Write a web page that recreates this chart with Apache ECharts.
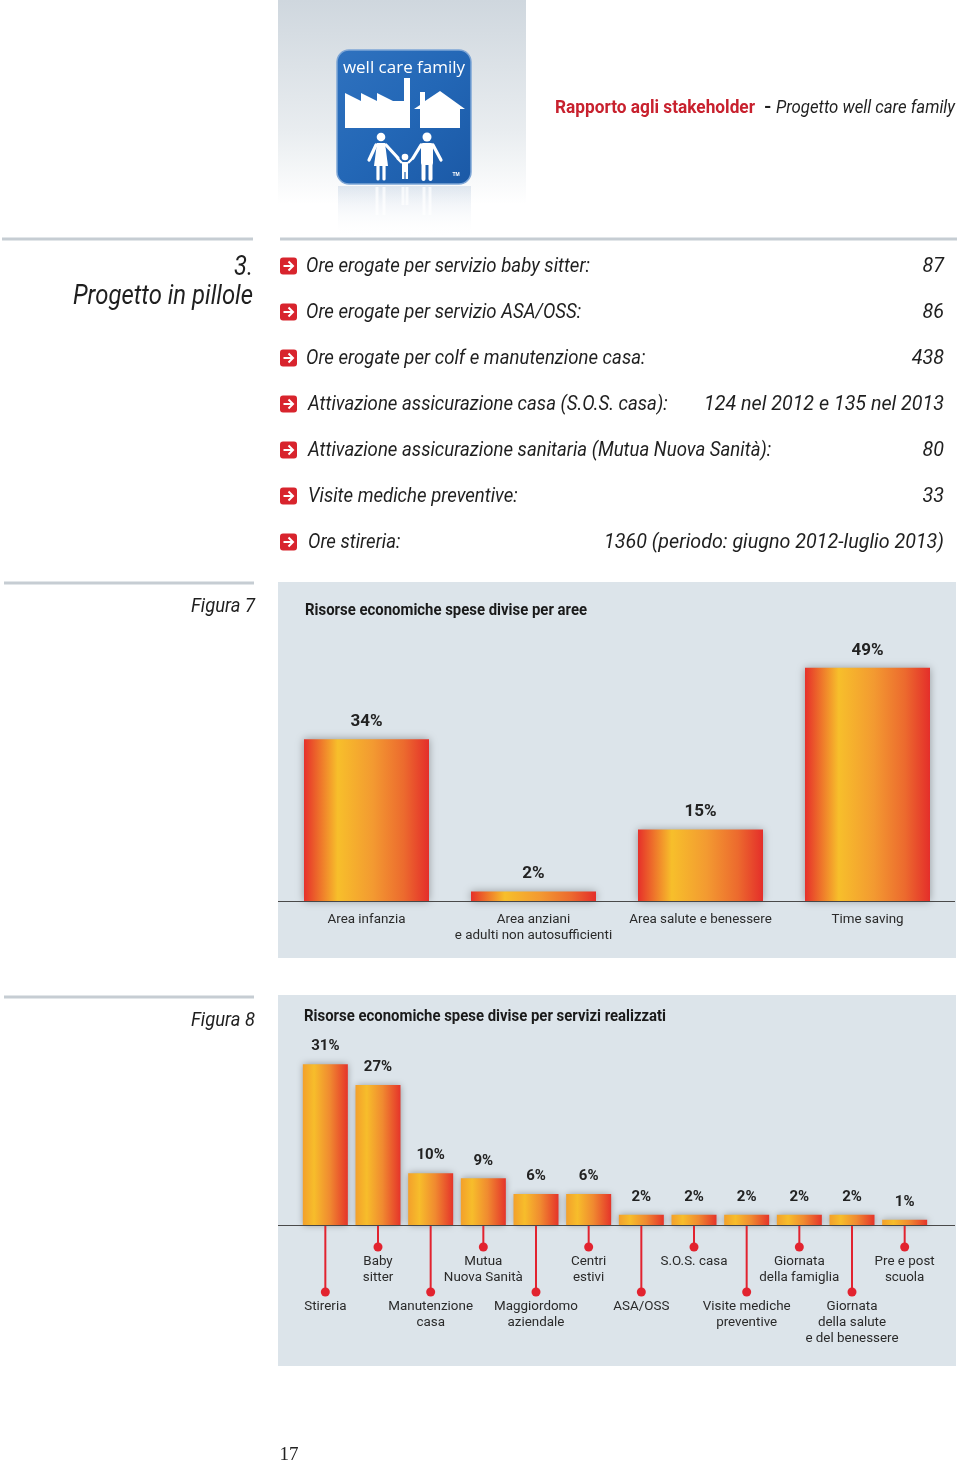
<!DOCTYPE html>
<html><head><meta charset="utf-8">
<script src="https://cdn.jsdelivr.net/npm/echarts@6/dist/echarts.min.js"></script>
<style>html,body{margin:0;padding:0;background:#fff}#c{width:960px;height:1463px}</style>
</head><body><div id="c"></div>
<script>
const FONT = 'Roboto, "Liberation Sans", sans-serif';

// ---- data ----
const listLabels = [
  'Ore erogate per servizio baby sitter:',
  'Ore erogate per servizio ASA/OSS:',
  'Ore erogate per colf e manutenzione casa:',
  'Attivazione assicurazione casa (S.O.S. casa):',
  'Attivazione assicurazione sanitaria (Mutua Nuova Sanità):',
  'Visite mediche preventive:',
  'Ore stireria:'
];
const listValues = ['87', '86', '438', '124 nel 2012 e 135 nel 2013', '80', '33', '1360 (periodo: giugno 2012-luglio 2013)'];

const fig7Categories = ['Area infanzia', 'Area anziani\ne adulti non autosufficienti', 'Area salute e benessere', 'Time saving'];
const fig7Values = [34, 2, 15, 49];

const fig8Categories = ['Stireria', 'Baby\nsitter', 'Manutenzione\ncasa', 'Mutua\nNuova Sanità', 'Maggiordomo\naziendale', 'Centri\nestivi', 'ASA/OSS', 'S.O.S. casa', 'Visite mediche\npreventive', 'Giornata\ndella famiglia', 'Giornata\ndella salute\ne del benessere', 'Pre e post\nscuola'];
const fig8Values = [31, 27, 10, 9, 6, 6, 2, 2, 2, 2, 2, 1];

// ---- rendering ----
const chart = echarts.init(document.getElementById('c'), null, {renderer: 'canvas'});
const G = echarts.graphic;
const TXT = '#1f1f1f';
const RED = '#d8242d';

const mctx = document.createElement('canvas').getContext('2d');
function measure(text, font) { mctx.font = font; return mctx.measureText(text).width; }
// horizontal condensing factors so the text matches the condensed typeface of the original
const F_LIST = 'italic 21px ' + FONT;
const S_LIST = 284 / measure(listLabels[0], F_LIST);
const S_VAL = 240 / measure(listValues[3], F_LIST);
const F_SEC = 'italic 27px ' + FONT;
const S_SEC = 180 / measure('Progetto in pillole', F_SEC);
const F_HRED = 'bold 19px ' + FONT;
const S_HRED = 200 / measure('Rapporto agli stakeholder', F_HRED);
const F_HIT = 'italic 19px ' + FONT;
const S_HIT = 179 / measure('Progetto well care family', F_HIT);
const F_FIG = 'italic 20px ' + FONT;
const S_FIG = 64 / measure('Figura 7', F_FIG);
const F_TTL = 'bold 17px ' + FONT;
const S_TTL = 282 / measure('Risorse economiche spese divise per aree', F_TTL);

function T(text, x, y, font, sx, align, fill) {
  return {type: 'text', x: x, y: y, scaleX: sx, z: 4,
    style: {text: text, x: 0, y: 0, font: font, fill: fill || TXT, align: align || 'left', verticalAlign: 'middle'}};
}

function grad7() {
  return new G.LinearGradient(0, 0, 1, 0, [
    {offset: 0, color: '#e6302a'}, {offset: 0.27, color: '#f7bf2b'},
    {offset: 0.55, color: '#f39a31'}, {offset: 0.8, color: '#ec6a2e'}, {offset: 1, color: '#e42e2a'}]);
}
function grad8() {
  return new G.LinearGradient(0, 0, 1, 0, [
    {offset: 0, color: '#f3a02b'}, {offset: 0.25, color: '#f7bd2b'},
    {offset: 0.6, color: '#f08a30'}, {offset: 1, color: '#e5342a'}]);
}

const graphics = [];
// logo panel
graphics.push({type: 'rect', shape: {x: 278, y: 0, width: 248, height: 240},
  style: {fill: new G.LinearGradient(0, 0, 0, 1, [{offset: 0, color: '#cfd7de'}, {offset: 0.55, color: '#e9edf0'}, {offset: 0.85, color: '#ffffff'}, {offset: 1, color: '#ffffff'}])}, z: 0});
// separators
[[2, 253, 239], [280, 957, 239], [4, 254, 583], [4, 254, 997]].forEach(s => graphics.push({
  type: 'line', shape: {x1: s[0], y1: s[2], x2: s[1], y2: s[2]}, style: {stroke: '#c6cdd3', lineWidth: 3}, z: 1}));

// logo reflection
graphics.push({type: 'rect', shape: {x: 338, y: 186, width: 133, height: 52, r: [0, 0, 12, 12]},
  style: {fill: new G.LinearGradient(0, 0, 0, 1, [{offset: 0, color: 'rgba(150,175,205,0.28)'}, {offset: 1, color: 'rgba(255,255,255,0)'}])}, z: 1});
[[377, 187, 377, 215], [384, 187, 384, 215], [403, 187, 403, 205], [407, 187, 407, 205], [424, 187, 424, 215], [430, 187, 430, 215]].forEach(l => graphics.push({
  type: 'line', shape: {x1: l[0], y1: l[1], x2: l[2], y2: l[3]}, style: {stroke: 'rgba(255,255,255,0.7)', lineWidth: 3}, z: 2}));
// logo
graphics.push({type: 'rect', shape: {x: 337, y: 50, width: 134, height: 134, r: 12},
  style: {fill: new G.LinearGradient(0, 0, 1, 1, [{offset: 0, color: '#2f72bf'}, {offset: 0.5, color: '#2367b6'}, {offset: 1, color: '#1b59a6'}]), stroke: '#7ea6d6', lineWidth: 1.5}, z: 3});
graphics.push({type: 'text', style: {text: 'well care family', x: 404, y: 68, fill: '#fff', font: '17px "Open Sans", sans-serif', align: 'center', verticalAlign: 'middle'}, z: 4});
graphics.push({type: 'polygon', shape: {points: [[345, 128], [345, 93], [361, 101], [361, 93], [377, 101], [377, 93], [393, 101], [404, 101], [404, 78], [410, 78], [410, 128]]}, style: {fill: '#fff'}, z: 4});
graphics.push({type: 'polygon', shape: {points: [[414, 109], [420, 105], [420, 92], [425, 92], [425, 101], [440, 91], [465, 109], [460, 109], [460, 128], [420, 128], [420, 109]]}, style: {fill: '#fff'}, z: 4});
// family
const W = {stroke: '#fff', lineWidth: 3.2, lineCap: 'round'};
graphics.push({type: 'circle', shape: {cx: 381, cy: 137, r: 4.3}, style: {fill: '#fff'}, z: 4});
graphics.push({type: 'polygon', shape: {points: [[377, 143], [385, 143], [388, 166], [374, 166]]}, style: {fill: '#fff'}, z: 4});
graphics.push({type: 'line', shape: {x1: 378, y1: 165, x2: 378, y2: 179}, style: W, z: 4});
graphics.push({type: 'line', shape: {x1: 384, y1: 165, x2: 384, y2: 179}, style: W, z: 4});
graphics.push({type: 'line', shape: {x1: 376, y1: 145, x2: 369, y2: 160}, style: W, z: 4});
graphics.push({type: 'line', shape: {x1: 386, y1: 145, x2: 398, y2: 158}, style: W, z: 4});
graphics.push({type: 'circle', shape: {cx: 405, cy: 157, r: 3.3}, style: {fill: '#fff'}, z: 4});
graphics.push({type: 'rect', shape: {x: 402, y: 162, width: 6, height: 10}, style: {fill: '#fff'}, z: 4});
graphics.push({type: 'line', shape: {x1: 403.2, y1: 171, x2: 403.2, y2: 179}, style: {stroke: '#fff', lineWidth: 2.4}, z: 4});
graphics.push({type: 'line', shape: {x1: 406.8, y1: 171, x2: 406.8, y2: 179}, style: {stroke: '#fff', lineWidth: 2.4}, z: 4});
graphics.push({type: 'line', shape: {x1: 402, y1: 163, x2: 397, y2: 158}, style: {stroke: '#fff', lineWidth: 2.4}, z: 4});
graphics.push({type: 'line', shape: {x1: 408, y1: 163, x2: 413, y2: 158}, style: {stroke: '#fff', lineWidth: 2.4}, z: 4});
graphics.push({type: 'circle', shape: {cx: 427, cy: 137, r: 4.5}, style: {fill: '#fff'}, z: 4});
graphics.push({type: 'rect', shape: {x: 421, y: 143, width: 12, height: 22, r: 2}, style: {fill: '#fff'}, z: 4});
graphics.push({type: 'line', shape: {x1: 423.5, y1: 164, x2: 423.5, y2: 179}, style: {stroke: '#fff', lineWidth: 4, lineCap: 'round'}, z: 4});
graphics.push({type: 'line', shape: {x1: 430.5, y1: 164, x2: 430.5, y2: 179}, style: {stroke: '#fff', lineWidth: 4, lineCap: 'round'}, z: 4});
graphics.push({type: 'line', shape: {x1: 433, y1: 145, x2: 441, y2: 160}, style: W, z: 4});
graphics.push({type: 'line', shape: {x1: 421, y1: 145, x2: 413, y2: 158}, style: W, z: 4});
graphics.push({type: 'text', style: {text: 'TM', x: 456, y: 175, fill: '#fff', font: 'bold 5px sans-serif', align: 'center', verticalAlign: 'middle'}, z: 4});

// header
graphics.push(T('Rapporto agli stakeholder', 555, 108, F_HRED, S_HRED, 'left', '#c8212e'));
graphics.push(T('-', 764, 108, 'bold 19px ' + FONT, 1, 'left'));
graphics.push(T('Progetto well care family', 776, 108, F_HIT, S_HIT, 'left'));

// section title
graphics.push(T('3.', 253, 268, F_SEC, S_SEC, 'right'));
graphics.push(T('Progetto in pillole', 253, 297, F_SEC, S_SEC, 'right'));

// list
listLabels.forEach((lab, i) => {
  const cy = 266 + i * 46;
  graphics.push({type: 'rect', shape: {x: 280, y: cy - 8.5, width: 17, height: 17, r: 3}, style: {fill: RED}, z: 4});
  graphics.push({type: 'polyline', shape: {points: [[283.5, cy], [293, cy]]}, style: {stroke: '#fff', lineWidth: 2, fill: null}, z: 5});
  graphics.push({type: 'polyline', shape: {points: [[288.5, cy - 4.5], [293, cy], [288.5, cy + 4.5]]}, style: {stroke: '#fff', lineWidth: 2, fill: null}, z: 5});
  graphics.push(T(lab, i < 3 ? 306 : 308, cy + 1, F_LIST, S_LIST, 'left'));
  graphics.push(T(listValues[i], 944, cy + 1, F_LIST, S_VAL, 'right'));
});

// figure panels
graphics.push({type: 'rect', shape: {x: 278, y: 582, width: 678, height: 376}, style: {fill: '#dce4ea'}, z: 0});
graphics.push({type: 'rect', shape: {x: 278, y: 995, width: 678, height: 371}, style: {fill: '#dce4ea'}, z: 0});
graphics.push(T('Figura 7', 255, 607, F_FIG, S_FIG, 'right'));
graphics.push(T('Figura 8', 255, 1021, F_FIG, S_FIG, 'right'));
graphics.push(T('Risorse economiche spese divise per aree', 305, 611, F_TTL, S_TTL, 'left', '#1a1a1a'));
graphics.push(T('Risorse economiche spese divise per servizi realizzati', 304, 1017, F_TTL, S_TTL, 'left', '#1a1a1a'));
// axis line extensions to the panel edges
[[278, 283, 901], [951, 955, 901], [278, 299, 1225], [931, 955, 1225]].forEach(s => graphics.push({
  type: 'line', shape: {x1: s[0], y1: s[2] + 0.5, x2: s[1], y2: s[2] + 0.5}, style: {stroke: '#4a4a4a', lineWidth: 1}, z: 1}));
graphics.push({type: 'text', style: {text: '17', x: 289, y: 1455, fill: '#222', font: '19px "Liberation Serif", serif', align: 'center', verticalAlign: 'middle'}, z: 4});

const LBL = '#2a2a2a';

chart.setOption({
  animation: false,
  backgroundColor: '#ffffff',
  graphic: {elements: graphics},
  grid: [
    {left: 283, top: 663, width: 668, height: 238, outerBoundsMode: 'none', containLabel: false},
    {left: 299, top: 1059, width: 632, height: 166, outerBoundsMode: 'none', containLabel: false}
  ],
  xAxis: [
    {type: 'category', gridIndex: 0, data: fig7Categories,
      axisLine: {lineStyle: {color: '#4a4a4a', width: 1}}, axisTick: {show: false},
      axisLabel: {margin: 11, fontSize: 13.4, lineHeight: 16, color: LBL, fontFamily: FONT, interval: 0}},
    {type: 'category', gridIndex: 1, data: fig8Categories,
      axisLine: {lineStyle: {color: '#4a4a4a', width: 1}}, axisTick: {show: false}, axisLabel: {show: false}}
  ],
  yAxis: [
    {type: 'value', gridIndex: 0, min: 0, max: 50, show: false, splitLine: {show: false}},
    {type: 'value', gridIndex: 1, min: 0, max: 32, show: false, splitLine: {show: false}}
  ],
  series: [
    {type: 'bar', xAxisIndex: 0, yAxisIndex: 0, data: fig7Values, barWidth: 125, z: 3,
      itemStyle: {color: grad7(), shadowBlur: 8, shadowColor: 'rgba(60,60,60,0.45)'},
      label: {show: true, position: 'top', distance: 9, formatter: '{c}%', fontSize: 17, fontWeight: 'bold', color: '#222', fontFamily: FONT}},
    {type: 'bar', xAxisIndex: 1, yAxisIndex: 1, data: fig8Values, barWidth: 45, z: 3,
      itemStyle: {color: grad8(), shadowBlur: 7, shadowColor: 'rgba(60,60,60,0.45)'},
      label: {show: true, position: 'top', distance: 10, formatter: '{c}%', fontSize: 15, fontWeight: 'bold', color: '#222', fontFamily: FONT}},
    {type: 'custom', xAxisIndex: 1, yAxisIndex: 1, z: 4, silent: true,
      data: fig8Categories.map((c, i) => [i, 0]),
      renderItem: function (params, api) {
        const idx = api.value(0);
        const p = api.coord([idx, 0]);
        const len = idx % 2 === 0 ? 67 : 22;
        return {type: 'group', children: [
          {type: 'line', shape: {x1: p[0], y1: p[1] + 1, x2: p[0], y2: p[1] + len}, style: {stroke: '#e2232f', lineWidth: 2}},
          {type: 'circle', shape: {cx: p[0], cy: p[1] + len, r: 4.5}, style: {fill: '#e2232f'}},
          {type: 'text', x: p[0], y: p[1] + len + 7, style: {text: fig8Categories[idx], fill: LBL, font: '13.4px ' + FONT, align: 'center', verticalAlign: 'top', lineHeight: 16}}
        ]};
      }}
  ]
});
</script>
</body></html>
